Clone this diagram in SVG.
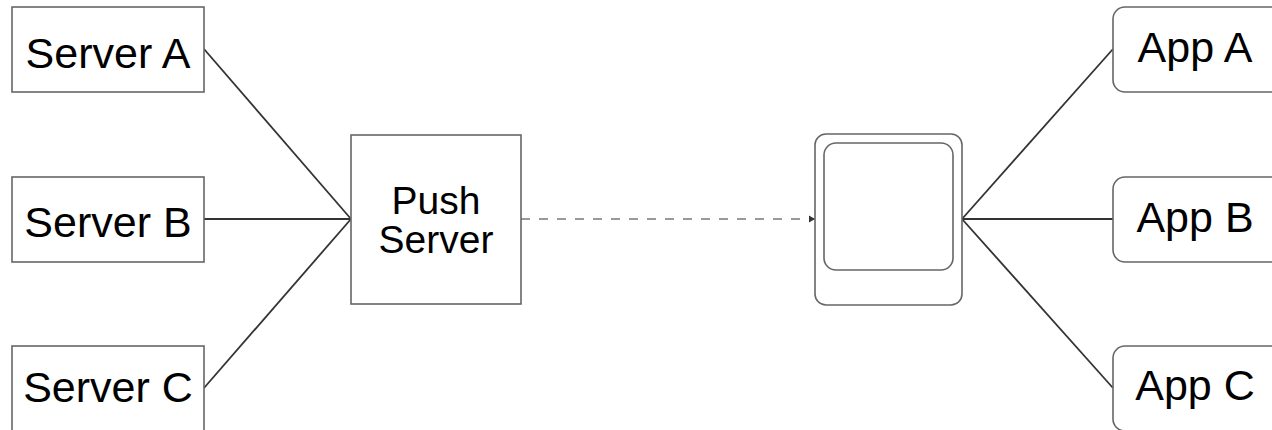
<svg xmlns="http://www.w3.org/2000/svg" width="1272" height="430" viewBox="0 0 1272 430">
<style>
.box{fill:#fff;stroke:#666;stroke-width:1.6}
.lbl{font-family:"Liberation Sans",Arial,sans-serif;font-size:43px;fill:#000;text-anchor:middle}
.ln{stroke:#333;stroke-width:1.8;fill:none}
.dash{stroke:#999;stroke-width:2.2;stroke-dasharray:9 9;fill:none}
</style>
<defs>
<marker id="ah" markerWidth="8" markerHeight="8" refX="6" refY="4" orient="auto" markerUnits="userSpaceOnUse">
<path d="M0,0.5 L6,4 L0,7.5 Z" fill="#333"/>
</marker>
</defs>
<g id="connectors">
<line class="ln" x1="204" y1="49" x2="351" y2="219"/>
<line class="ln" x1="204" y1="219" x2="351" y2="219"/>
<line class="ln" x1="204" y1="388" x2="351" y2="219"/>
<line class="dash" x1="521" y1="219" x2="815" y2="219" marker-end="url(#ah)"/>
<line class="ln" x1="962" y1="219" x2="1113" y2="49"/>
<line class="ln" x1="962" y1="219" x2="1113" y2="219"/>
<line class="ln" x1="962" y1="219" x2="1113" y2="388"/>
</g>
<g id="server-a"><rect class="box" x="12" y="7" width="192" height="85"/><text class="lbl" x="108" y="68">Server A</text></g>
<g id="server-b"><rect class="box" x="12" y="177" width="192" height="85"/><text class="lbl" x="108" y="237">Server B</text></g>
<g id="server-c"><rect class="box" x="12" y="346" width="192" height="85"/><text class="lbl" x="108" y="402">Server C</text></g>
<g id="push-server"><rect class="box" x="351" y="135" width="170" height="169"/><text class="lbl" style="font-size:39px" x="436" y="214">Push</text><text class="lbl" style="font-size:39px" x="436" y="253">Server</text></g>
<g id="device"><rect class="box" x="815" y="134" width="147" height="171" rx="11"/><rect class="box" x="824" y="143" width="129" height="127" rx="12"/></g>
<g id="app-a"><rect class="box" x="1113" y="7" width="170" height="85" rx="12"/><text class="lbl" x="1195" y="62">App A</text></g>
<g id="app-b"><rect class="box" x="1113" y="177" width="170" height="85" rx="12"/><text class="lbl" x="1195" y="232">App B</text></g>
<g id="app-c"><rect class="box" x="1113" y="346" width="170" height="85" rx="12"/><text class="lbl" x="1195" y="400">App C</text></g>
</svg>
